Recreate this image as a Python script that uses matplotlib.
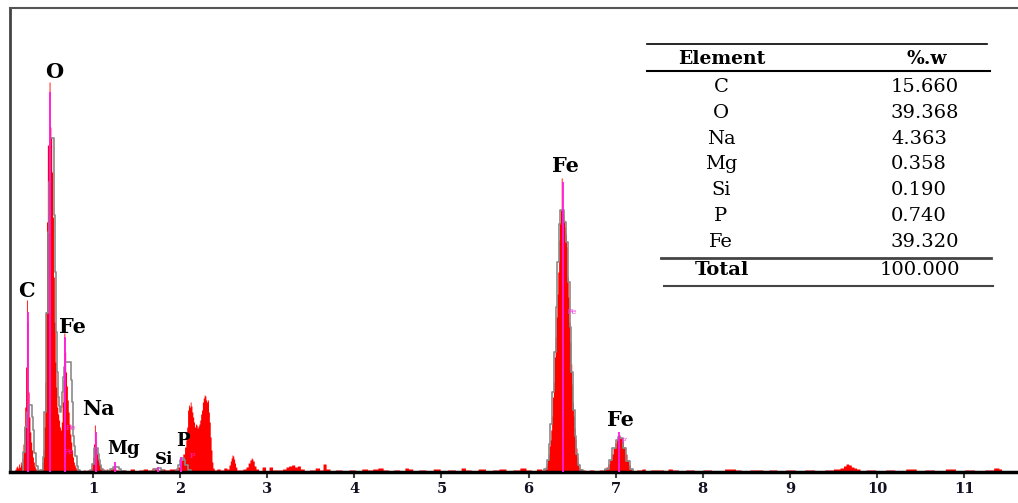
import numpy as np
import matplotlib
matplotlib.use('Agg')
import matplotlib.pyplot as plt
from matplotlib.lines import Line2D

# EDS spectrum (keV, counts)
energy_kev = [0.10, 0.11, 0.12, 0.13, 0.14, 0.15, 0.16, 0.17, 0.18, 0.19,
              0.20, 0.21, 0.22, 0.23, 0.24, 0.25, 0.26, 0.27, 0.28, 0.29,
              0.30, 0.31, 0.32, 0.33, 0.34, 0.35, 0.36, 0.37, 0.38, 0.39,
              0.40, 0.41, 0.42, 0.43, 0.44, 0.45, 0.46, 0.47, 0.48, 0.49,
              0.50, 0.51, 0.52, 0.53, 0.54, 0.55, 0.56, 0.57, 0.58, 0.59,
              0.60, 0.61, 0.62, 0.63, 0.64, 0.65, 0.66, 0.67, 0.68, 0.69,
              0.70, 0.71, 0.72, 0.73, 0.74, 0.75, 0.76, 0.77, 0.78, 0.79,
              0.80, 0.81, 0.82, 0.84, 0.86, 0.88, 0.90, 0.92, 0.94, 0.96,
              0.98, 0.99, 1.00, 1.01, 1.02, 1.03, 1.04, 1.05, 1.06, 1.07,
              1.08, 1.09, 1.10, 1.12, 1.14, 1.16, 1.18, 1.20, 1.24, 1.28,
              1.32, 1.36, 1.40, 1.45, 1.50, 1.55, 1.60, 1.65, 1.70, 1.75,
              1.80, 1.85, 1.90, 1.94, 1.96, 1.98, 2.00, 2.02, 2.04, 2.06,
              2.07, 2.08, 2.09, 2.10, 2.11, 2.12, 2.13, 2.14, 2.15, 2.16,
              2.17, 2.18, 2.19, 2.20, 2.21, 2.22, 2.23, 2.24, 2.25, 2.26,
              2.27, 2.28, 2.29, 2.30, 2.31, 2.32, 2.33, 2.34, 2.35, 2.36,
              2.37, 2.38, 2.40, 2.44, 2.48, 2.52, 2.55, 2.57, 2.58, 2.59,
              2.60, 2.61, 2.62, 2.63, 2.64, 2.66, 2.70, 2.74, 2.77, 2.79,
              2.81, 2.82, 2.83, 2.84, 2.86, 2.88, 2.92, 2.96, 3.00, 3.04,
              3.08, 3.15, 3.20, 3.23, 3.26, 3.30, 3.33, 3.36, 3.40, 3.45,
              3.52, 3.58, 3.62, 3.66, 3.69, 3.75, 3.82, 3.90, 3.97, 4.05,
              4.12, 4.18, 4.24, 4.30, 4.36, 4.42, 4.48, 4.56, 4.60, 4.64,
              4.70, 4.78, 4.86, 4.95, 5.02, 5.12, 5.20, 5.25, 5.30, 5.38,
              5.46, 5.55, 5.62, 5.70, 5.78, 5.86, 5.94, 6.00, 6.06, 6.12,
              6.18, 6.20, 6.21, 6.22, 6.23, 6.24, 6.25, 6.26, 6.27, 6.28,
              6.29, 6.30, 6.31, 6.32, 6.33, 6.34, 6.35, 6.36, 6.37, 6.38,
              6.39, 6.40, 6.41, 6.42, 6.43, 6.44, 6.45, 6.46, 6.47, 6.48,
              6.49, 6.50, 6.51, 6.52, 6.53, 6.54, 6.55, 6.56, 6.57, 6.58,
              6.60, 6.63, 6.67, 6.72, 6.78, 6.84, 6.88, 6.90, 6.92, 6.94,
              6.96, 6.98, 7.00, 7.02, 7.04, 7.06, 7.08, 7.10, 7.12, 7.14,
              7.16, 7.18, 7.20, 7.28, 7.32, 7.36, 7.44, 7.52, 7.58, 7.62,
              7.68, 7.76, 7.85, 7.95, 8.05, 8.15, 8.35, 8.40, 8.48, 8.60,
              8.66, 8.72, 8.80, 8.90, 9.00, 9.12, 9.22, 9.35, 9.45, 9.55,
              9.60, 9.63, 9.66, 9.69, 9.72, 9.75, 9.78, 9.83, 9.92, 10.05,
              10.15, 10.26, 10.40, 10.50, 10.60, 10.72, 10.85, 10.95, 11.06, 11.18,
              11.30, 11.38, 11.42, 11.44]
counts = [2, 3, 5, 6, 4, 8, 5, 10, 7, 14,
          28, 45, 65, 105, 172, 150, 80, 55, 40, 30,
          22, 15, 10, 6, 4, 2, 2, 1, 1, 1,
          2, 3, 10, 22, 45, 90, 160, 250, 327, 327,
          390, 345, 335, 300, 255, 195, 150, 110, 85, 65,
          58, 52, 45, 42, 50, 70, 92, 139, 120, 100,
          86, 72, 60, 48, 38, 30, 22, 15, 10, 7,
          5, 3, 2, 1, 0, 1, 2, 1, 2, 1,
          4, 9, 15, 28, 47, 32, 24, 18, 14, 10,
          8, 6, 4, 3, 2, 3, 2, 3, 4, 2,
          1, 2, 1, 3, 1, 2, 3, 2, 4, 2,
          3, 2, 3, 3, 4, 5, 8, 12, 18, 25,
          32, 45, 62, 67, 65, 70, 66, 60, 55, 50,
          45, 48, 47, 44, 46, 48, 52, 58, 62, 70,
          74, 77, 76, 72, 70, 72, 60, 50, 35, 22,
          10, 4, 2, 3, 2, 4, 3, 7, 11, 14,
          17, 16, 13, 9, 5, 2, 2, 3, 5, 9,
          12, 14, 13, 11, 6, 3, 1, 5, 1, 5,
          2, 2, 3, 5, 6, 7, 5, 6, 3, 1,
          2, 4, 2, 8, 3, 1, 2, 1, 2, 1,
          3, 2, 3, 4, 2, 1, 2, 1, 4, 3,
          1, 2, 1, 3, 1, 2, 1, 4, 2, 1,
          3, 1, 2, 3, 1, 2, 4, 2, 1, 3,
          2, 5, 8, 12, 18, 26, 32, 42, 56, 75,
          90, 115, 135, 155, 178, 200, 232, 250, 262, 294,
          263, 258, 252, 245, 238, 225, 195, 175, 150, 130,
          108, 88, 70, 56, 44, 33, 24, 15, 9, 5,
          3, 2, 1, 2, 1, 2, 3, 5, 8, 12,
          18, 24, 29, 33, 37, 34, 31, 25, 18, 12,
          7, 3, 1, 2, 3, 1, 2, 2, 1, 3,
          2, 1, 2, 1, 2, 1, 3, 2, 1, 2,
          2, 1, 2, 1, 2, 1, 2, 1, 2, 3,
          4, 6, 8, 7, 5, 4, 3, 1, 2, 1,
          2, 1, 3, 1, 2, 1, 3, 1, 2, 1,
          2, 4, 3, 0]

# fitted peak profile (grey outline)
fit_kev = [0.18, 0.21, 0.23, 0.25, 0.27, 0.29, 0.30, 0.315, 0.333, 0.356,
           0.38, 0.41, 0.43, 0.45, 0.47, 0.49, 0.50, 0.51, 0.52, 0.53,
           0.54, 0.56, 0.57, 0.58, 0.59, 0.60, 0.61, 0.62, 0.63, 0.64,
           0.65, 0.66, 0.67, 0.68, 0.69, 0.70, 0.71, 0.72, 0.73, 0.74,
           0.75, 0.76, 0.77, 0.78, 0.79, 0.80, 0.82, 0.84, 0.86, 0.96,
           0.98, 1.00, 1.01, 1.02, 1.03, 1.04, 1.05, 1.06, 1.07, 1.08,
           1.10, 1.12, 1.18, 1.21, 1.24, 1.28, 1.31, 1.34, 1.40, 1.66,
           1.69, 1.72, 1.76, 1.79, 1.82, 1.94, 1.96, 1.99, 2.01, 2.03,
           2.05, 2.07, 2.10, 2.14, 6.16, 6.20, 6.22, 6.24, 6.26, 6.28,
           6.30, 6.32, 6.34, 6.36, 6.37, 6.38, 6.39, 6.40, 6.42, 6.44,
           6.46, 6.48, 6.50, 6.52, 6.54, 6.56, 6.58, 6.60, 6.64, 6.86,
           6.90, 6.94, 6.98, 7.02, 7.04, 7.06, 7.10, 7.14, 7.18, 7.22]
fit_counts = [0, 20, 45, 60, 67, 67, 55, 42, 19, 6,
              1, 2, 15, 60, 159, 240, 290, 334, 334, 334,
              334, 257, 200, 140, 100, 75, 66, 62, 60, 65,
              80, 95, 105, 110, 110, 110, 110, 110, 110, 110,
              92, 70, 52, 36, 26, 16, 6, 2, 0, 0,
              2, 8, 16, 24, 24, 24, 24, 18, 12, 7,
              3, 1, 1, 3, 5, 5, 3, 1, 0, 0,
              1, 3, 4, 2, 0, 0, 2, 7, 12, 14,
              12, 7, 2, 0, 0, 3, 12, 28, 48, 80,
              120, 165, 210, 248, 262, 262, 262, 262, 250, 230,
              190, 145, 100, 62, 36, 18, 7, 2, 0, 0,
              3, 12, 24, 32, 35, 34, 24, 11, 3, 0]

# element marker lines
marker_kev = [0.25, 0.51, 0.68, 1.03, 1.25, 1.74, 2.01, 6.39, 7.04]
marker_height = [160, 380, 135, 40, 10, 5, 15, 290, 40]

peak_names = ['C', 'O', 'Fe', 'Na', 'Mg', 'Si', 'P', 'Fe', 'Fe']
peak_label_kev = [0.237, 0.551, 0.763, 1.056, 1.345, 1.82, 2.026, 6.424, 7.055]
peak_label_y = [181, 400, 145, 63, 23, 13, 31, 306, 52]
peak_label_size = [15, 15, 15, 15, 13, 12, 13, 15, 15]

elements = ['C', 'O', 'Na', 'Mg', 'Si', 'P', 'Fe']
weight_pct = ['15.660', '39.368', '4.363', '0.358', '0.190', '0.740', '39.320']
total_pct = '100.000'

W, H = 1018, 503
fig = plt.figure(figsize=(W / 100, H / 100), dpi=100)
fig.patch.set_facecolor('white')
ax = fig.add_axes([10 / W, 31 / H, 1008 / W, 464 / H])

ax.fill_between(energy_kev, 0, counts, step='mid', color='#ff0000', lw=0, zorder=1)
ax.step(fit_kev, fit_counts, where='mid', color='#8a8a8a', lw=1.2, zorder=2)
ax.vlines(marker_kev, 0, marker_height, color='#ff1ee0', lw=1.3, zorder=3)

serif = ['DejaVu Serif']
for name, e, y, s in zip(peak_names, peak_label_kev, peak_label_y, peak_label_size):
    ax.text(e, y, name, ha='center', va='center', fontsize=s,
            fontweight='bold', family=serif, color='black', zorder=5)

# tiny magenta marker tags
for e, y, t in [(0.74, 44, 'Fe'), (0.72, 20, 'Fe'), (6.49, 160, 'Fe'),
                (7.09, 31, 'F'), (2.14, 16, 'P')]:
    ax.text(e, y, t, ha='center', va='center', fontsize=6, color='#ff1ee0',
            family=serif, zorder=4)

ax.set_xlim(0.046, 11.619)
ax.set_ylim(0, 464)
ax.set_xticks(range(1, 12))
ax.set_yticks([])
ax.tick_params(axis='x', direction='out', length=4, width=1.5, color='#444444',
               pad=3)
for lab in ax.get_xticklabels():
    lab.set_family(serif)
    lab.set_fontweight('bold')
    lab.set_fontsize(10.5)
    lab.set_color('#111122')

ax.spines['right'].set_visible(False)
ax.spines['top'].set_color('#555555')
ax.spines['top'].set_linewidth(1.5)
ax.spines['left'].set_color('#444444')
ax.spines['left'].set_linewidth(2)
ax.spines['bottom'].set_color('black')
ax.spines['bottom'].set_linewidth(2.5)


def fx(x):
    return x / W


def fy(y):
    return 1 - y / H


# composition table
for (x0, x1, y, c, lw) in [(647, 987, 44.3, 'black', 1.2), (647, 990, 70.7, 'black', 1.5),
                           (661, 991, 257.7, '#444444', 2.0), (664, 993, 286, '#444444', 1.5)]:
    fig.add_artist(Line2D([fx(x0), fx(x1)], [fy(y), fy(y)], color=c, lw=lw,
                          transform=fig.transFigure))

fig.text(fx(722), fy(59), 'Element', ha='center', va='center', fontsize=13.5,
         fontweight='bold', family=serif)
fig.text(fx(927), fy(59), '%.w', ha='center', va='center', fontsize=13.5,
         fontweight='bold', family=serif)
for i, (el, w) in enumerate(zip(elements, weight_pct)):
    y = 86.7 + i * 25.9
    fig.text(fx(721), fy(y), el, ha='center', va='center', fontsize=14, family=serif)
    fig.text(fx(891), fy(y), w, ha='left', va='center', fontsize=14, family=serif)
fig.text(fx(722), fy(270), 'Total', ha='center', va='center', fontsize=14,
         fontweight='bold', family=serif)
fig.text(fx(880), fy(270), total_pct, ha='left', va='center', fontsize=14, family=serif)

fig.savefig('out.png', dpi=100)
